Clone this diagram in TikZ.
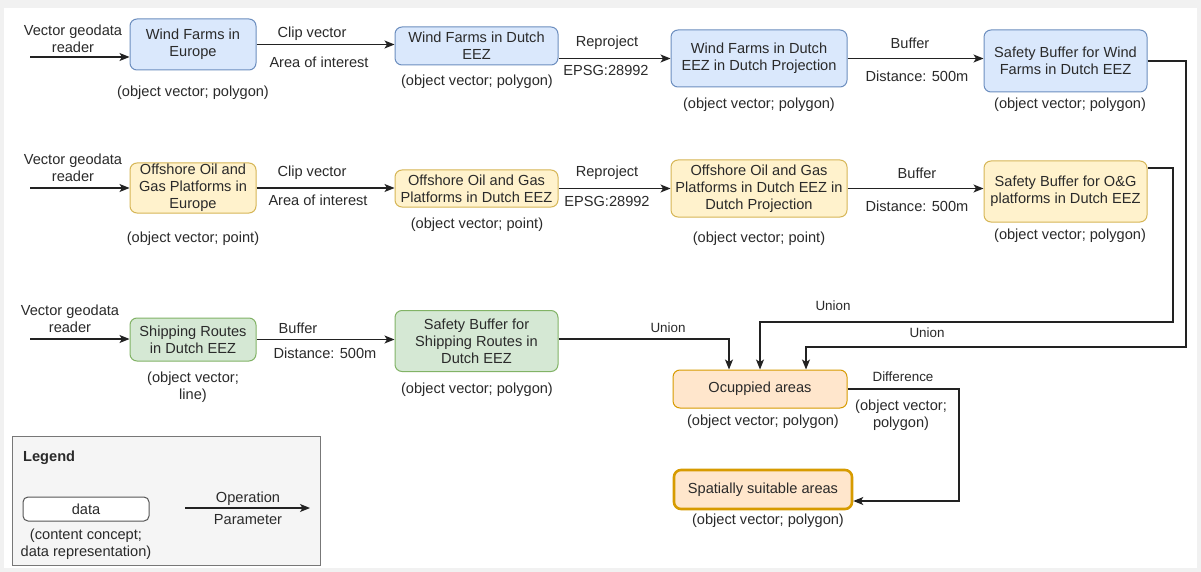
\documentclass[tikz,border=0pt]{standalone}
\usepackage{fontspec}
\setmainfont{Liberation Sans}
\usetikzlibrary{arrows.meta,calc}

\definecolor{bluefill}{HTML}{DAE8FC}
\definecolor{bluedraw}{HTML}{6C8EBF}
\definecolor{yelfill}{HTML}{FFF2CC}
\definecolor{yeldraw}{HTML}{D6B656}
\definecolor{grnfill}{HTML}{D5E8D4}
\definecolor{grndraw}{HTML}{82B366}
\definecolor{orgfill}{HTML}{FFE6CC}
\definecolor{orgdraw}{HTML}{D79B00}
\definecolor{legfill}{HTML}{F5F5F5}
\definecolor{legdraw}{HTML}{777777}
\definecolor{ink}{HTML}{2A2A2A}
\definecolor{wire}{HTML}{222222}
\definecolor{rim}{HTML}{F1F1F1}

\newcommand\fmain{\fontsize{14.6}{17}\selectfont}
\newcommand\fsmall{\fontsize{13.4}{16}\selectfont}

\begin{document}
\begin{tikzpicture}[x=1pt,y=-1pt,
  every node/.style={text=ink, font=\fmain, align=center, inner sep=1pt},
  databox/.style={rounded corners=7pt, line width=1pt, minimum width=#1},
  bluebox/.style={databox=163pt, fill=bluefill, draw=bluedraw},
  yelbox/.style={databox=163pt, fill=yelfill, draw=yeldraw},
  grnbox/.style={databox=126pt, fill=grnfill, draw=grndraw},
  orgbox/.style={databox=174pt, fill=orgfill, draw=orgdraw},
  lbl/.style={font=\fmain},
  oplbl/.style={font=\fsmall},
  arr/.style={draw=wire, line width=1.2pt,
    -{Stealth[length=10pt, width=8pt, inset=2.5pt]}},
]
% canvas
\fill[rim] (0,0) rectangle (1201,572);
\fill[white] (4,8) rectangle (1197,568);
\useasboundingbox (0,0) rectangle (1201,572);

% ---------- wind farms row ----------
\node[bluebox, minimum width=126pt, minimum height=51pt] (wfe) at (193,44.5) {Wind Farms in\\Europe};
\node[bluebox, minimum height=38pt] (wfd) at (476.5,46) {Wind Farms in Dutch\\EEZ};
\node[bluebox, minimum width=176pt, minimum height=57pt] (wfp) at (759,58.5) {Wind Farms in Dutch\\EEZ in Dutch Projection};
\node[bluebox, minimum height=62pt] (wfs) at (1065.5,61) {Safety Buffer for Wind\\Farms in Dutch EEZ};

\node[lbl] (wfeL) at (193,93) {(object vector; polygon)};
\node[lbl] (wfdL) at (477,82) {(object vector; polygon)};
\node[lbl] (wfpL) at (759,105) {(object vector; polygon)};
\node[lbl] (wfsL) at (1070,105) {(object vector; polygon)};

\node[lbl] (rd1) at (73,38.5) {Vector geodata\\reader};
\node[lbl] (op1a) at (312,34) {Clip vector};
\node[lbl] (op1b) at (319,62) {Area of interest};
\node[lbl] (op2a) at (607,43) {Reproject};
\node[lbl] (op2b) at (606,70) {EPSG:28992};
\node[lbl] (op3a) at (910,43) {Buffer};
\node[lbl] (op3b) at (917,76) {Distance: 500m};

% ---------- oil and gas row ----------
\node[yelbox, minimum width=126pt, minimum height=50pt] (oge) at (193,188) {Offshore Oil and\\Gas Platforms in\\Europe};
\node[yelbox, minimum height=37pt] (ogd) at (476.5,188.5) {Offshore Oil and Gas\\Platforms in Dutch EEZ};
\node[yelbox, minimum width=176pt, minimum height=57pt] (ogp) at (759,188.5) {Offshore Oil and Gas\\Platforms in Dutch EEZ in\\Dutch Projection};
\node[yelbox, minimum height=61pt] (ogs) at (1065.5,191.5) {Safety Buffer for O\&G\\platforms in Dutch EEZ};

\node[lbl] (ogeL) at (193,239) {(object vector; point)};
\node[lbl] (ogdL) at (477,225) {(object vector; point)};
\node[lbl] (ogpL) at (759,239) {(object vector; point)};
\node[lbl] (ogsL) at (1070,236) {(object vector; polygon)};

\node[lbl] (rd2) at (73,168) {Vector geodata\\reader};
\node[lbl] (op4a) at (312,173) {Clip vector};
\node[lbl] (op4b) at (318,200) {Area of interest};
\node[lbl] (op5a) at (607,173) {Reproject};
\node[lbl] (op5b) at (607,201) {EPSG:28992};
\node[lbl] (op6a) at (917,173) {Buffer};
\node[lbl] (op6b) at (917,206) {Distance: 500m};

% ---------- shipping row ----------
\node[grnbox, minimum height=43pt] (shr) at (193,339.5) {Shipping Routes\\in Dutch EEZ};
\node[grnbox, minimum width=163pt, minimum height=61pt] (shs) at (476.5,341) {Safety Buffer for\\Shipping Routes in\\Dutch EEZ};

\node[lbl] (shrL) at (193,387) {(object vector;\\line)};
\node[lbl] (shsL) at (477,390) {(object vector; polygon)};

\node[lbl] (rd3) at (70,318.5) {Vector geodata\\reader};
\node[lbl] (op7a) at (298,328) {Buffer};
\node[lbl] (op7b) at (325,353) {Distance: 500m};

% ---------- results ----------
\node[orgbox, minimum height=38pt] (occ) at (760,389) {Ocuppied areas};
\node[orgbox, minimum width=178pt, minimum height=39pt, line width=2.6pt] (spa) at (763,489.5) {Spatially suitable areas};
\node[lbl] (occL) at (763,422) {(object vector; polygon)};
\node[lbl] (spaL) at (768,521) {(object vector; polygon)};

\node[oplbl] (un1) at (668,328) {Union};
\node[oplbl] (un2) at (833,306) {Union};
\node[oplbl] (un3) at (927,333) {Union};
\node[oplbl] (dif) at (903,377) {Difference};
\node[lbl] (difL) at (901,415) {(object vector;\\polygon)};

% ---------- connectors ----------
\coordinate (in1) at (30,57);
\coordinate (in2) at (30,188);
\coordinate (in3) at (30,339);
\draw[arr] (in1) -- (in1 -| wfe.west);
\draw[arr] (wfe.east) -- (wfe.east -| wfd.west);
\draw[arr] (wfd.east |- wfp.west) -- (wfp.west);
\draw[arr] (wfp.east) -- (wfp.east -| wfs.west);

\draw[arr] (in2) -- (in2 -| oge.west);
\draw[arr] (oge.east) -- (oge.east -| ogd.west);
\draw[arr] (ogd.east) -- (ogd.east -| ogp.west);
\draw[arr] (ogp.east) -- (ogp.east -| ogs.west);

\draw[arr] (in3) -- (in3 -| shr.west);
\draw[arr] (shr.east) -- (shr.east -| shs.west);

% unions into the occupied areas
\coordinate (j1) at (729,339);
\coordinate (j2) at (760,322);
\coordinate (j3) at (806,347);
\coordinate (r2) at (1173,168);
\coordinate (r3) at (1186,61);
\draw[arr] (j1 -| shs.east) -- (j1) -- (j1 |- occ.north);
\draw[arr] (r2 -| ogs.east) -- (r2) |- (j2) -- (j2 |- occ.north);
\draw[arr] (wfs.east) -- (r3) |- (j3) -- (j3 |- occ.north);

% difference
\coordinate (d1) at (959,501);
\draw[arr] (occ.east) -| (d1) -- (d1 -| spa.east);

% ---------- legend ----------
\node[draw=legdraw, fill=legfill, line width=1pt, minimum width=308pt, minimum height=129pt] (leg) at (166,500.5) {};
\node[anchor=west, font=\fmain\bfseries] (legT) at (22,458) {Legend};
\node[databox=126pt, minimum height=24pt, fill=white, draw=ink!80, rounded corners=5pt] (dat) at (86,509) {data};
\node[lbl] (datL) at (86,544) {(content concept;\\data representation)};
\coordinate (la) at (185,508);
\coordinate (lb) at (310,508);
\draw[arr] (la) -- (lb);
\node[lbl] (legA) at (248,499) {Operation};
\node[lbl] (legB) at (248,520) {Parameter};
\end{tikzpicture}
\end{document}
